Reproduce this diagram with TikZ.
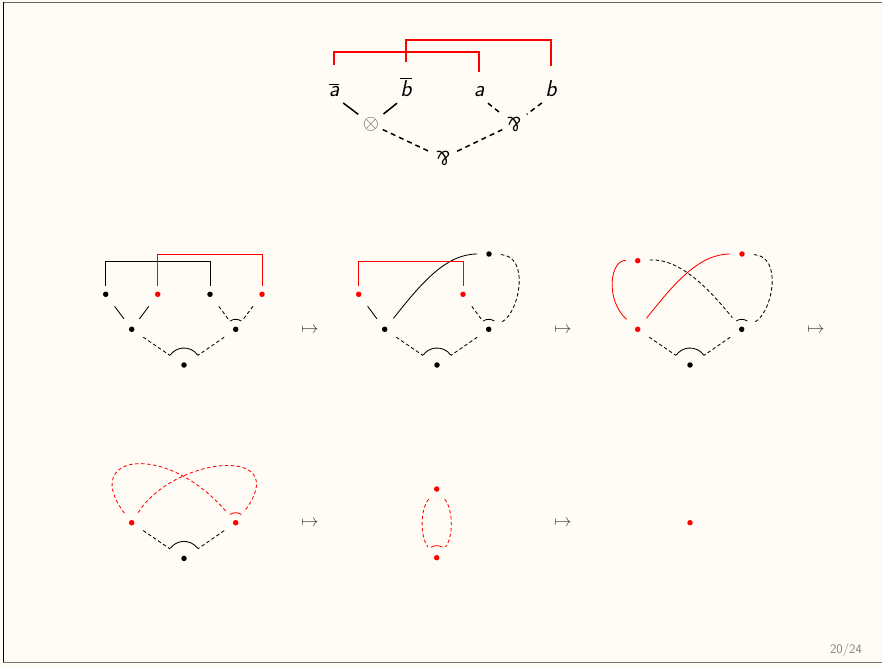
\documentclass[tikz,border=0pt]{standalone}
\usepackage{graphicx}
\usetikzlibrary{calc}
\definecolor{bgcream}{RGB}{255,252,246}
\definecolor{mapgray}{RGB}{70,70,70}
\definecolor{pgnum}{RGB}{130,130,130}
\newcommand{\myparr}{\rotatebox[origin=c]{180}{\sffamily\upshape\&}}
\begin{document}
\begin{tikzpicture}[x=1pt,y=-1pt,
  lbl/.style={font=\fontsize{23}{23}\selectfont\sffamily\itshape, anchor=base, inner sep=0pt},
  conn/.style={inner sep=0pt, font=\fontsize{20}{20}\selectfont},
  topln/.style={line width=1.5pt, shorten <=11.5pt, shorten >=16pt},
  topdash/.style={line width=1.5pt, dash pattern=on 5pt off 4pt, shorten <=13pt, shorten >=13pt},
  redbr/.style={red, line width=1.6pt},
  bd/.style={circle, fill=black, inner sep=0pt, minimum size=5.5pt},
  rd/.style={bd, fill=red},
  ln/.style={line width=0.85pt},
  dl/.style={ln, dash pattern=on 3.5pt off 2.5pt},
  upe/.style={shorten <=12pt, shorten >=10pt},
  roote/.style={shorten <=11pt, shorten >=14pt},
  mapn/.style={inner sep=0pt, text=mapgray, font=\fontsize{16}{16}\selectfont}
]
\useasboundingbox (0,0) rectangle (882,666);
\fill[bgcream] (0,0) rectangle (882,666);
\draw[black!60, line width=1.2pt] (3,2.5) -- (882,2.5);
\draw[black, line width=1.2pt] (3.2,2) -- (3.2,663);
\draw[black!55, line width=1.2pt] (3,662.8) -- (882,662.8);

% ---------- top formula tree ----------
\node[lbl] (abar) at (334,96) {$\overline{\mbox{\sffamily\itshape a}}$};
\node[lbl] (bbar) at (406,96) {$\overline{\mbox{\sffamily\itshape b}}$};
\node[lbl] (ta) at (479,96) {a};
\node[lbl] (tb) at (551,96) {b};
\node[conn, font=\fontsize{21}{21}\selectfont] (tens) at (371,124) {\color{black!65}$\otimes$};
\node[conn] (pr) at (514,124) {\myparr};
\node[conn] (p0) at (443,158) {\myparr};
\draw[topln] (abar.base) -- (tens.center);
\draw[topln] (bbar.base) -- (tens.center);
\draw[topln, dash pattern=on 5pt off 4pt] (ta.base) -- (pr.center);
\draw[topln, dash pattern=on 5pt off 4pt] (tb.base) -- (pr.center);
\draw[topdash] (tens.center) -- (p0.center);
\draw[topdash] (pr.center) -- (p0.center);
\draw[redbr] ($(abar.base)+(0,-31)$) |- ($(ta.base)+(0,-44)$) -- ($(ta.base)+(0,-24)$);
\draw[redbr] ($(bbar.base)+(0,-34)$) |- ($(tb.base)+(0,-56)$) -- ($(tb.base)+(0,-30)$);

% ---------- diagram 1 ----------
\node[bd] (a1) at (105.7,294.3) {};
\node[rd] (b1) at (157.7,294.3) {};
\node[bd] (c1) at (210,294.3) {};
\node[rd] (d1) at (262,294.3) {};
\node[bd] (t1) at (131.7,329.3) {};
\node[bd] (q1) at (235.7,329.3) {};
\node[bd] (r1) at (184,365) {};
\draw[ln, upe] (a1) -- (t1);
\draw[ln, upe] (b1) -- (t1);
\draw[dl, upe] (c1) -- (q1);
\draw[dl, upe] (d1) -- (q1);
\draw[dl, roote] (t1) -- (r1);
\draw[dl, roote] (q1) -- (r1);
\draw[ln] ([shift={(55:10pt)}]q1.center) arc[start angle=55, end angle=125, radius=10pt];
\draw[ln] ([shift={(36:17pt)}]r1.center) arc[start angle=36, end angle=144, radius=17pt];
\draw[ln] ($(a1)+(0,-8)$) |- ($(c1)+(0,-33)$) -- ($(c1)+(0,-8)$);
\draw[ln, red] ($(b1)+(0,-8)$) |- ($(d1)+(0,-40)$) -- ($(d1)+(0,-8)$);
\node[mapn] (m1) at (310,330.7) {$\mapsto$};

% ---------- diagram 2 ----------
\node[rd] (a2) at (358.7,294.3) {};
\node[rd] (c2) at (463,294.3) {};
\node[bd] (T2) at (489,254) {};
\node[bd] (t2) at (384.7,329.3) {};
\node[bd] (q2) at (488.7,329.3) {};
\node[bd] (r2) at (437,365) {};
\draw[ln, upe] (a2) -- (t2);
\draw[dl, upe] (c2) -- (q2);
\draw[ln, shorten <=11pt, shorten >=9pt] (t2) .. controls (420,285) and (445,254) .. (T2);
\draw[dl, shorten <=9pt, shorten >=12pt] (T2) .. controls (530,256) and (520,312) .. (q2);
\draw[dl, roote] (t2) -- (r2);
\draw[dl, roote] (q2) -- (r2);
\draw[ln] ([shift={(55:10pt)}]q2.center) arc[start angle=55, end angle=125, radius=10pt];
\draw[ln] ([shift={(36:17pt)}]r2.center) arc[start angle=36, end angle=144, radius=17pt];
\draw[ln, red] ($(a2)+(0,-8)$) |- ($(c2)+(0,-33)$) -- ($(c2)+(0,-8)$);
\node[mapn] (m2) at (563,330.7) {$\mapsto$};

% ---------- diagram 3 ----------
\node[rd] (L3) at (637.7,260.7) {};
\node[rd] (T3) at (742,254) {};
\node[rd] (t3) at (637.7,329.3) {};
\node[bd] (q3) at (741.7,329.3) {};
\node[bd] (r3) at (690,365) {};
\draw[ln, red, shorten <=9pt, shorten >=12pt] (L3) .. controls (610,260) and (605,300) .. (t3);
\draw[ln, red, shorten <=11pt, shorten >=9pt] (t3) .. controls (673,285) and (698,254) .. (T3);
\draw[dl, shorten <=9pt, shorten >=12pt] (L3) .. controls (680,258) and (710,290) .. (q3);
\draw[dl, shorten <=9pt, shorten >=12pt] (T3) .. controls (783,256) and (773,312) .. (q3);
\draw[dl, roote] (t3) -- (r3);
\draw[dl, roote] (q3) -- (r3);
\draw[ln] ([shift={(55:10pt)}]q3.center) arc[start angle=55, end angle=125, radius=10pt];
\draw[ln] ([shift={(36:17pt)}]r3.center) arc[start angle=36, end angle=144, radius=17pt];
\node[mapn] (m3) at (816,330.7) {$\mapsto$};

% ---------- diagram 4 ----------
\node[rd] (t4) at (131.7,522.7) {};
\node[rd] (q4) at (235.7,522.7) {};
\node[bd] (r4) at (184,558.4) {};
\draw[dl, red, shorten <=9pt, shorten >=11pt] (t4) .. controls (80,455) and (165,440) .. (q4);
\draw[dl, red, shorten <=9pt, shorten >=11pt] (t4) .. controls (175,455) and (295,445) .. (q4);
\draw[dl, roote] (t4) -- (r4);
\draw[dl, roote] (q4) -- (r4);
\draw[ln, red] ([shift={(55:10pt)}]q4.center) arc[start angle=55, end angle=125, radius=10pt];
\draw[ln] ([shift={(36:17pt)}]r4.center) arc[start angle=36, end angle=144, radius=17pt];
\node[mapn] (m4) at (310,523.3) {$\mapsto$};

% ---------- diagram 5 ----------
\node[rd] (T5) at (436.7,489) {};
\node[rd] (B5) at (436.7,557.7) {};
\draw[dl, red, shorten <=10pt, shorten >=11pt] (T5) .. controls (420,510) and (420,537) .. (B5);
\draw[dl, red, shorten <=10pt, shorten >=11pt] (T5) .. controls (453.4,510) and (453.4,537) .. (B5);
\draw[ln, red] ([shift={(62:12pt)}]B5.center) arc[start angle=62, end angle=118, radius=12pt];
\node[mapn] (m5) at (563,523.3) {$\mapsto$};

% ---------- diagram 6 ----------
\node[rd] (e6) at (690,522.7) {};

\node[inner sep=0pt, text=pgnum, font=\sffamily\fontsize{13}{13}\selectfont] (pg) at (846,650) {20/24};
\end{tikzpicture}
\end{document}
